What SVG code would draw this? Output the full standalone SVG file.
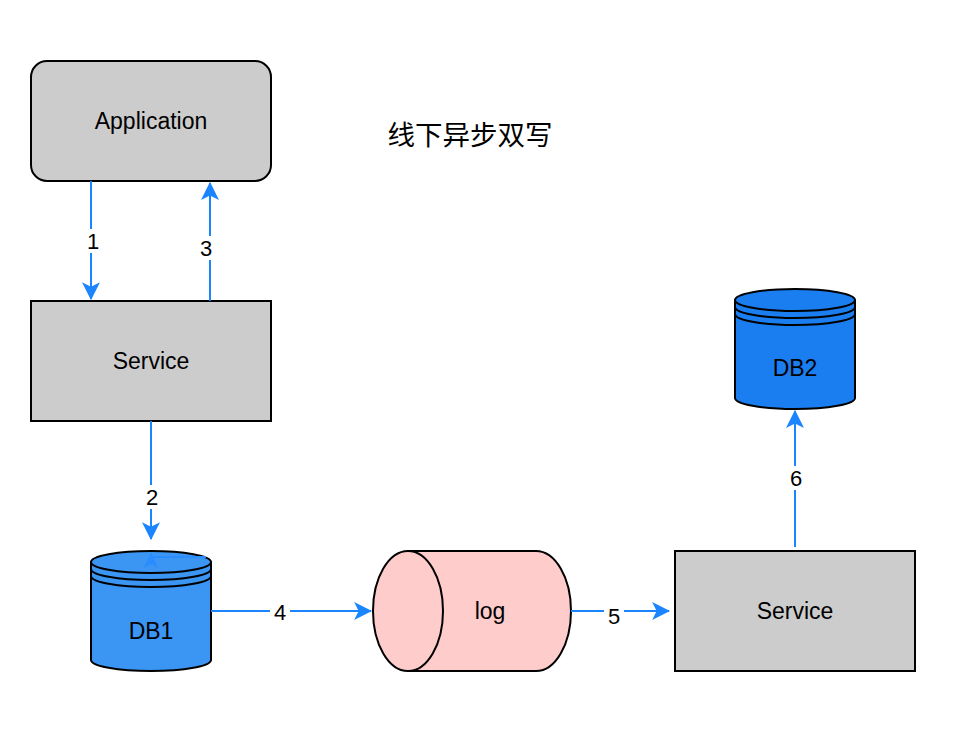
<svg xmlns="http://www.w3.org/2000/svg" width="962" height="736" viewBox="0 0 962 736">
<defs>
<style>
.box{fill:#cccccc;stroke:#000;stroke-width:2}
.db{stroke:#000;stroke-width:2}
.lbl{font-family:"Liberation Sans",Arial,sans-serif;font-size:23px;fill:#000;text-anchor:middle;dominant-baseline:central}
.num{font-family:"Liberation Sans",Arial,sans-serif;font-size:22px;fill:#000;text-anchor:middle;dominant-baseline:central}
.edge{stroke:#1a85ff;stroke-width:2;fill:none}
.bg{fill:#fff}
</style>
<marker id="arr2" viewBox="0 0 16 16" refX="15" refY="8" markerWidth="18" markerHeight="18" markerUnits="userSpaceOnUse" orient="auto">
<path d="M0,0 L16,8 L0,16 L4,8 Z" fill="#1a85ff"/>
</marker>
</defs>
<rect width="962" height="736" fill="#fff"/>

<g id="title"><text x="470" y="133" font-family="'Noto Sans CJK SC','Liberation Sans',sans-serif" font-size="27.5" text-anchor="middle" dominant-baseline="central">线下异步双写</text></g>

<g id="application"><rect class="box" x="31" y="61" width="240" height="120" rx="16"/><text class="lbl" x="151" y="121">Application</text></g>
<g id="service1"><rect class="box" x="31" y="301" width="240" height="120"/><text class="lbl" x="151" y="361">Service</text></g>
<g id="service2"><rect class="box" x="675" y="551" width="240" height="120"/><text class="lbl" x="795" y="611">Service</text></g>

<g id="db1">
<path class="db" fill="#3a95f3" d="M91,562 A60,11 0 0 1 211,562 L211,660 A60,11 0 0 1 91,660 Z"/>
<path class="db" fill="none" d="M91,562 A60,11 0 0 0 211,562 M91,569 A60,11 0 0 0 211,569 M91,576 A60,11 0 0 0 211,576"/>
<text class="lbl" x="151" y="631">DB1</text>
</g>
<g id="db2">
<path class="db" fill="#1a7ef0" d="M735,300 A60,11 0 0 1 855,300 L855,398 A60,11 0 0 1 735,398 Z"/>
<path class="db" fill="none" d="M735,300 A60,11 0 0 0 855,300 M735,307 A60,11 0 0 0 855,307 M735,314 A60,11 0 0 0 855,314"/>
<text class="lbl" x="795" y="368">DB2</text>
</g>
<g id="log">
<path class="db" fill="#ffcccc" d="M408,551 L536,551 A35,60 0 0 1 536,671 L408,671 A35,60 0 0 1 408,551 Z"/>
<path class="db" fill="none" d="M408,551 A35,60 0 0 1 408,671"/>
<text class="lbl" x="490" y="611">log</text>
</g>

<g id="connectors">
<line class="edge" x1="91" y1="181" x2="91" y2="299" marker-end="url(#arr2)"/>
<rect class="bg" x="83" y="229" width="18" height="24"/><text class="num" x="93" y="241">1</text>
<line class="edge" x1="210" y1="301" x2="210" y2="183" marker-end="url(#arr2)"/>
<rect class="bg" x="197" y="236" width="20" height="24"/><text class="num" x="206" y="248">3</text>
<line class="edge" x1="151" y1="421" x2="151" y2="539" marker-end="url(#arr2)"/>
<rect class="bg" x="141" y="485" width="20" height="24"/><text class="num" x="152" y="497">2</text>
<path d="M153,557 L206,557" stroke="#2a8cff" stroke-width="2" fill="none"/>
<path d="M151,552 L158,568 L151,564 L144,568 Z" fill="#2a8cff"/>
<line class="edge" x1="211" y1="611" x2="371" y2="611" marker-end="url(#arr2)"/>
<rect class="bg" x="270" y="600" width="20" height="24"/><text class="num" x="280" y="612">4</text>
<line class="edge" x1="571" y1="611" x2="669" y2="611" marker-end="url(#arr2)"/>
<rect class="bg" x="604" y="604" width="20" height="24"/><text class="num" x="614" y="616">5</text>
<line class="edge" x1="795" y1="547" x2="795" y2="411" marker-end="url(#arr2)"/>
<rect class="bg" x="786" y="466" width="20" height="24"/><text class="num" x="796" y="478">6</text>
</g>
</svg>
